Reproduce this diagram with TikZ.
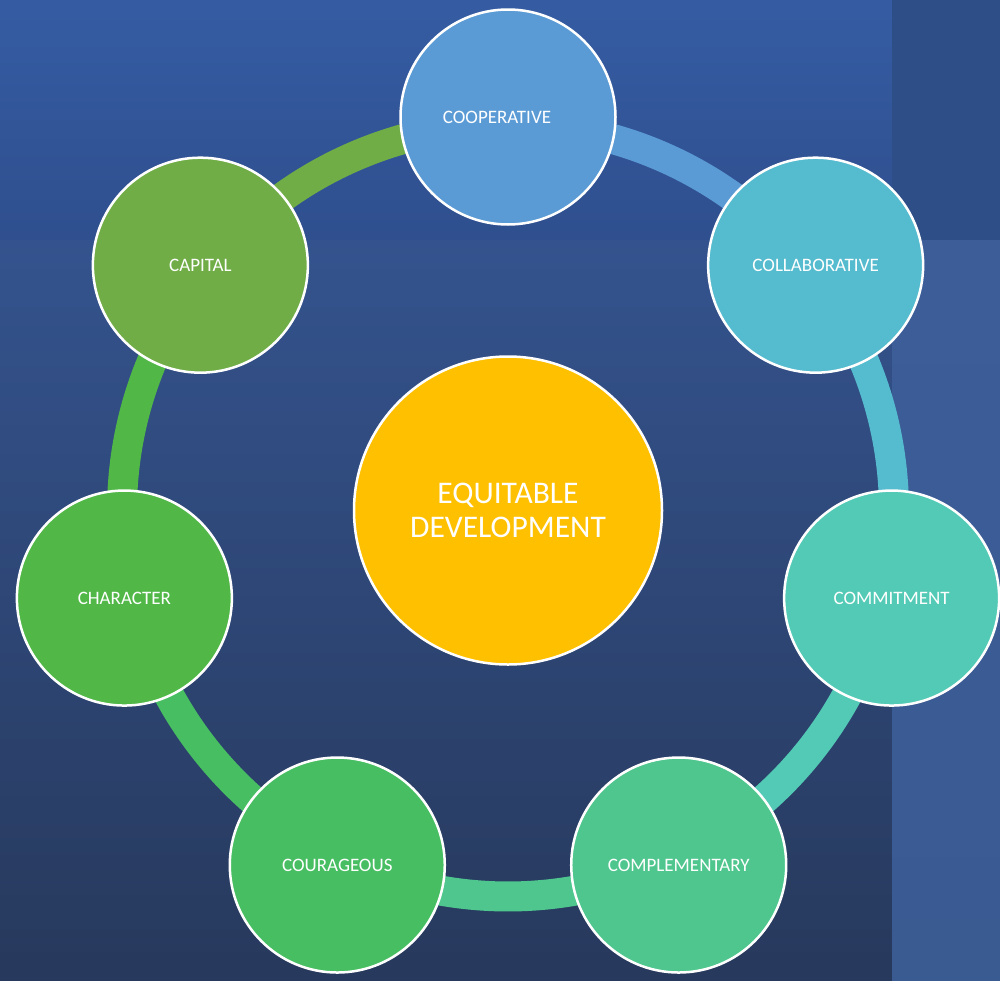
\documentclass[tikz,border=0pt]{standalone}
\usepackage{fontspec}
\setmainfont{Carlito}
\definecolor{bgTopA}{HTML}{355CA3}
\definecolor{bgTopB}{HTML}{2F4F8E}
\definecolor{bgMainA}{HTML}{34538E}
\definecolor{bgMainB}{HTML}{27395C}
\definecolor{bgColA}{HTML}{3C5D98}
\definecolor{bgColB}{HTML}{3A5A92}
\definecolor{bgCorner}{HTML}{2E4E88}
\definecolor{cCoop}{HTML}{5B9BD5}
\definecolor{cCollab}{HTML}{55BBCE}
\definecolor{cCommit}{HTML}{53CAB6}
\definecolor{cCompl}{HTML}{4EC68E}
\definecolor{cCourage}{HTML}{48BE63}
\definecolor{cChar}{HTML}{51B848}
\definecolor{cCap}{HTML}{70AD47}
\definecolor{cCenter}{HTML}{FFC000}
\begin{document}
\begin{tikzpicture}[x=1pt,y=-1pt,
  ringarc/.style={line width=30pt},
  petal/.style={circle, draw=white, line width=2.5pt, minimum size=215pt, inner sep=0pt,
    text=white, font=\fontsize{19}{23}\selectfont},
  hub/.style={circle, draw=white, line width=2.5pt, minimum size=308pt, inner sep=0pt,
    fill=cCenter, text=white, align=center, font=\fontsize{31.5}{34}\selectfont}]
\useasboundingbox (0,0) rectangle (1000,980);
% background panels
\shade[top color=bgTopA, bottom color=bgTopB] (0,0) rectangle (892,240);
\shade[top color=bgMainA, bottom color=bgMainB] (0,240) rectangle (892,980);
\shade[top color=bgColA, bottom color=bgColB] (892,240) rectangle (1000,980);
\fill[bgCorner] (892,0) rectangle (1000,240);
% ring centre
\coordinate (O) at (508,510.5);
% ring arcs (clockwise, each in the colour of the node it leaves)
\foreach \a/\col in {-90/cCoop, -38.571/cCollab, 12.857/cCommit, 64.286/cCompl, 115.714/cCourage, 167.143/cChar, 218.571/cCap}{
  \pgfmathsetmacro{\b}{\a+51.4286}
  \draw[ringarc, draw=\col] ([shift={(\a:386)}]O) arc[start angle=\a, end angle=\b, radius=386];
}
% nodes
\path (O) ++(-90:393.5) node[petal, fill=cCoop] (n1) {COOPERATIVE\hspace*{22pt}\mbox{}};
\path (O) ++(-38.571:393.5) node[petal, fill=cCollab] (n2) {COLLABORATIVE};
\path (O) ++(12.857:393.5) node[petal, fill=cCommit] (n3) {COMMITMENT};
\path (O) ++(64.286:393.5) node[petal, fill=cCompl] (n4) {COMPLEMENTARY};
\path (O) ++(115.714:393.5) node[petal, fill=cCourage] (n5) {COURAGEOUS};
\path (O) ++(167.143:393.5) node[petal, fill=cChar] (n6) {CHARACTER};
\path (O) ++(218.571:393.5) node[petal, fill=cCap] (n7) {CAPITAL};
\node[hub] (c) at (O) {EQUITABLE\\DEVELOPMENT};
\end{tikzpicture}
\end{document}
